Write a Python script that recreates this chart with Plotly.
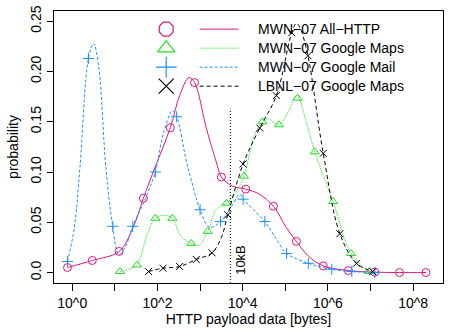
import plotly.graph_objects as go

# ---------------- data (x given as log10 of bytes) ----------------
SERIES_NAMES = ["MWN\u221207 All\u2212HTTP", "MWN\u221207 Google Maps",
                "MWN\u221207 Google Mail", "LBNL\u221207 Google Maps"]

# MWN-07 All-HTTP
all_curve_lx = [-0.11, 0.47, 1.10, 1.42, 1.67, 1.90, 2.30, 2.52, 2.74, 2.87, 3.15, 3.38, 3.50,
                3.76, 4.07, 4.39, 4.72, 5.02, 5.26, 5.55, 5.89, 6.48, 7.10, 7.68, 8.30]
all_curve_y = [0.005, 0.012, 0.021, 0.044, 0.074, 0.100, 0.144, 0.176, 0.194, 0.189, 0.143, 0.110, 0.095,
               0.086, 0.083, 0.078, 0.066, 0.045, 0.031, 0.016, 0.0066, 0.002, 0.0004, 0.0, 0.0]
all_mark_lx = [-0.11, 0.47, 1.10, 1.67, 2.30, 2.87, 3.50, 4.07, 4.72, 5.26, 5.89, 6.48, 7.10, 7.68, 8.30]
all_mark_y = [0.005, 0.012, 0.021, 0.074, 0.144, 0.189, 0.095, 0.083, 0.066, 0.031, 0.0066, 0.002, 0.0004, 0.0, 0.0]

# MWN-07 Google Maps
maps_curve_lx = [1.12, 1.30, 1.52, 1.75, 1.95, 2.15, 2.35, 2.55, 2.79, 2.97, 3.18, 3.38, 3.62, 3.81,
                 4.03, 4.28, 4.46, 4.59, 4.85, 5.06, 5.27, 5.49, 5.69, 6.12, 6.54, 6.97]
maps_curve_y = [0.001, 0.003, 0.0075, 0.037, 0.054, 0.057, 0.054, 0.036, 0.029, 0.027, 0.041, 0.063, 0.069, 0.078,
                0.096, 0.137, 0.150, 0.153, 0.147, 0.159, 0.176, 0.150, 0.120, 0.0706, 0.019, 0.001]
maps_mark_lx = [1.12, 1.52, 1.95, 2.35, 2.79, 3.18, 3.62, 4.03, 4.46, 4.85, 5.29, 5.69, 6.12, 6.54, 6.97]
maps_mark_y = [0.001, 0.0075, 0.054, 0.054, 0.029, 0.041, 0.069, 0.096, 0.150, 0.147, 0.1735, 0.120, 0.0706, 0.019, 0.001]

# MWN-07 Google Mail
mail_curve_lx = [-0.11, 0.05, 0.18, 0.38, 0.50, 0.62, 0.79, 0.95, 1.09, 1.25, 1.42, 1.70, 1.95, 2.13, 2.35,
                 2.45, 2.68, 2.79, 3.00, 3.22, 3.48, 3.77, 3.93, 4.01, 4.52, 4.78, 5.03, 5.54, 6.09, 6.56, 7.10]
mail_curve_y = [0.011, 0.045, 0.104, 0.213, 0.228, 0.205, 0.104, 0.046, 0.018, 0.026, 0.046, 0.072, 0.100, 0.137, 0.161,
                0.155, 0.110, 0.0925, 0.0625, 0.045, 0.0507, 0.068, 0.078, 0.073, 0.0507, 0.034, 0.019, 0.0092, 0.0033, 0.001, 0.0]
mail_mark_lx = [-0.11, 0.38, 0.95, 1.42, 1.95, 2.45, 3.00, 3.48, 4.01, 4.52, 5.03, 5.54, 6.09, 6.56, 7.10]
mail_mark_y = [0.011, 0.213, 0.046, 0.046, 0.100, 0.155, 0.0625, 0.0507, 0.073, 0.0507, 0.019, 0.0092, 0.0033, 0.001, 0.0]

# LBNL-07 Google Maps
lbnl_curve_lx = [1.79, 2.13, 2.52, 2.91, 3.28, 3.50, 3.65, 4.01, 4.40, 4.79, 5.15, 5.26, 5.35, 5.53,
                 5.89, 6.28, 6.67, 7.05]
lbnl_curve_y = [0.001, 0.0043, 0.006, 0.013, 0.0196, 0.035, 0.0575, 0.108, 0.1438, 0.176, 0.2386, 0.248, 0.243, 0.2157,
                0.1186, 0.0386, 0.0092, 0.001]
lbnl_mark_lx = [1.79, 2.13, 2.52, 2.91, 3.28, 3.65, 4.01, 4.40, 4.79, 5.15, 5.53, 5.89, 6.28, 6.67, 7.05]
lbnl_mark_y = [0.001, 0.0043, 0.006, 0.013, 0.0196, 0.0575, 0.108, 0.1438, 0.176, 0.2386, 0.2157, 0.1186, 0.0386, 0.0092, 0.001]

KB_LINE_LX = 3.71          # marker line labelled "10kB"
KB_LINE_TOP = 0.163

x_tick_exp = list(range(0, 9))
x_tick_text = ["10^0", "", "10^2", "", "10^4", "", "10^6", "", "10^8"]
y_tick_vals = [0.0, 0.05, 0.10, 0.15, 0.20, 0.25]
y_tick_text = ["0.0", "0.05", "0.10", "0.15", "0.20", "0.25"]

# ---------------- styling ----------------
PINK = "#E0177F"
GREEN = "#22DD22"
BLUE = "#1E90FF"
BLACK = "#000000"
FONT = "Liberation Sans, Arial, sans-serif"


def p10(v):
    return [10 ** e for e in v]


fig = go.Figure()

styles = [
    (all_curve_lx, all_curve_y, all_mark_lx, all_mark_y, PINK, "solid", "circle-open", 8),
    (maps_curve_lx, maps_curve_y, maps_mark_lx, maps_mark_y, GREEN, "1px,1px", "triangle-up-open", 8),
    (mail_curve_lx, mail_curve_y, mail_mark_lx, mail_mark_y, BLUE, "3px,2px", "cross-thin-open", 8),
    (lbnl_curve_lx, lbnl_curve_y, lbnl_mark_lx, lbnl_mark_y, BLACK, "4px,3px", "x-thin-open", 7),
]

for cx, cy, mx, my, col, dash, sym, sz in styles:
    fig.add_trace(go.Scatter(x=p10(cx), y=cy, mode="lines",
                             line=dict(color=col, width=1, dash=dash, shape="spline", smoothing=1.0),
                             showlegend=False, hoverinfo="skip"))
    fig.add_trace(go.Scatter(x=p10(mx), y=my, mode="markers",
                             marker=dict(symbol=sym, size=sz, color=col, line=dict(color=col, width=1)),
                             showlegend=False, hoverinfo="skip"))

# 10kB line
fig.add_trace(go.Scatter(x=[10 ** KB_LINE_LX, 10 ** KB_LINE_LX], y=[-0.0104, KB_LINE_TOP], mode="lines",
                         line=dict(color=BLACK, width=1, dash="1px,2px"), showlegend=False, hoverinfo="skip"))
fig.add_annotation(x=KB_LINE_LX, y=-0.0104, xref="x", yref="y", text="10kB", textangle=-90,
                   showarrow=False, xanchor="left", yanchor="bottom", xshift=0, yshift=6,
                   font=dict(family=FONT, size=13, color="black"))

# ---------------- manual legend (pixel overlay axes) ----------------
leg_rows = [25.7, 45.0, 64.3, 83.6]
leg_syms = ["octagon-open", "triangle-up-open", "cross-thin-open", "x-thin-open"]
leg_cols = [PINK, GREEN, BLUE, BLACK]
leg_dash = ["solid", "1px,1px", "3px,2px", "4px,3px"]
for name, yy, sym, col, dash in zip(SERIES_NAMES, leg_rows, leg_syms, leg_cols, leg_dash):
    fig.add_trace(go.Scatter(x=[166.5], y=[yy], xaxis="x2", yaxis="y2", mode="markers",
                             marker=dict(symbol=sym, size=15, color=col, line=dict(color=col, width=1.2)),
                             showlegend=False, hoverinfo="skip"))
    fig.add_trace(go.Scatter(x=[200, 239], y=[yy, yy], xaxis="x2", yaxis="y2", mode="lines",
                             line=dict(color=col, width=1, dash=dash),
                             showlegend=False, hoverinfo="skip"))
    fig.add_annotation(x=257, y=yy, xref="x2", yref="y2", text=name, showarrow=False,
                       xanchor="left", yanchor="middle",
                       font=dict(family=FONT, size=14, color="black"))

fig.update_layout(
    width=449, height=334,
    margin=dict(l=54, r=5, t=7, b=51),
    plot_bgcolor="white", paper_bgcolor="white",
    font=dict(family=FONT, size=14, color="black"),
    xaxis=dict(type="log", range=[-0.428, 8.70],
               tickvals=p10(x_tick_exp), ticktext=x_tick_text,
               ticks="outside", ticklen=7, tickcolor="black", tickwidth=1,
               showline=True, linecolor="black", linewidth=1, mirror=True,
               showgrid=False, zeroline=False,
               title=dict(text="HTTP payload data [bytes]", standoff=4,
                          font=dict(family=FONT, size=14)),
               tickfont=dict(family=FONT, size=14)),
    yaxis=dict(range=[-0.0104, 0.2602],
               tickvals=y_tick_vals, ticktext=y_tick_text, tickangle=-90,
               ticks="outside", ticklen=6, tickcolor="black", tickwidth=1,
               showline=True, linecolor="black", linewidth=1, mirror=True,
               showgrid=False, zeroline=False,
               title=dict(text="probability", standoff=6, font=dict(family=FONT, size=14)),
               tickfont=dict(family=FONT, size=14)),
    xaxis2=dict(range=[54, 444], overlaying="x", visible=False, fixedrange=True),
    yaxis2=dict(range=[283.3, 7.3], overlaying="y", visible=False, fixedrange=True),
    showlegend=False,
)

fig.write_html("out.html",
               config={"displayModeBar": False, "staticPlot": True},
               post_script="document.body.style.margin='0';document.body.style.overflow='hidden';")
